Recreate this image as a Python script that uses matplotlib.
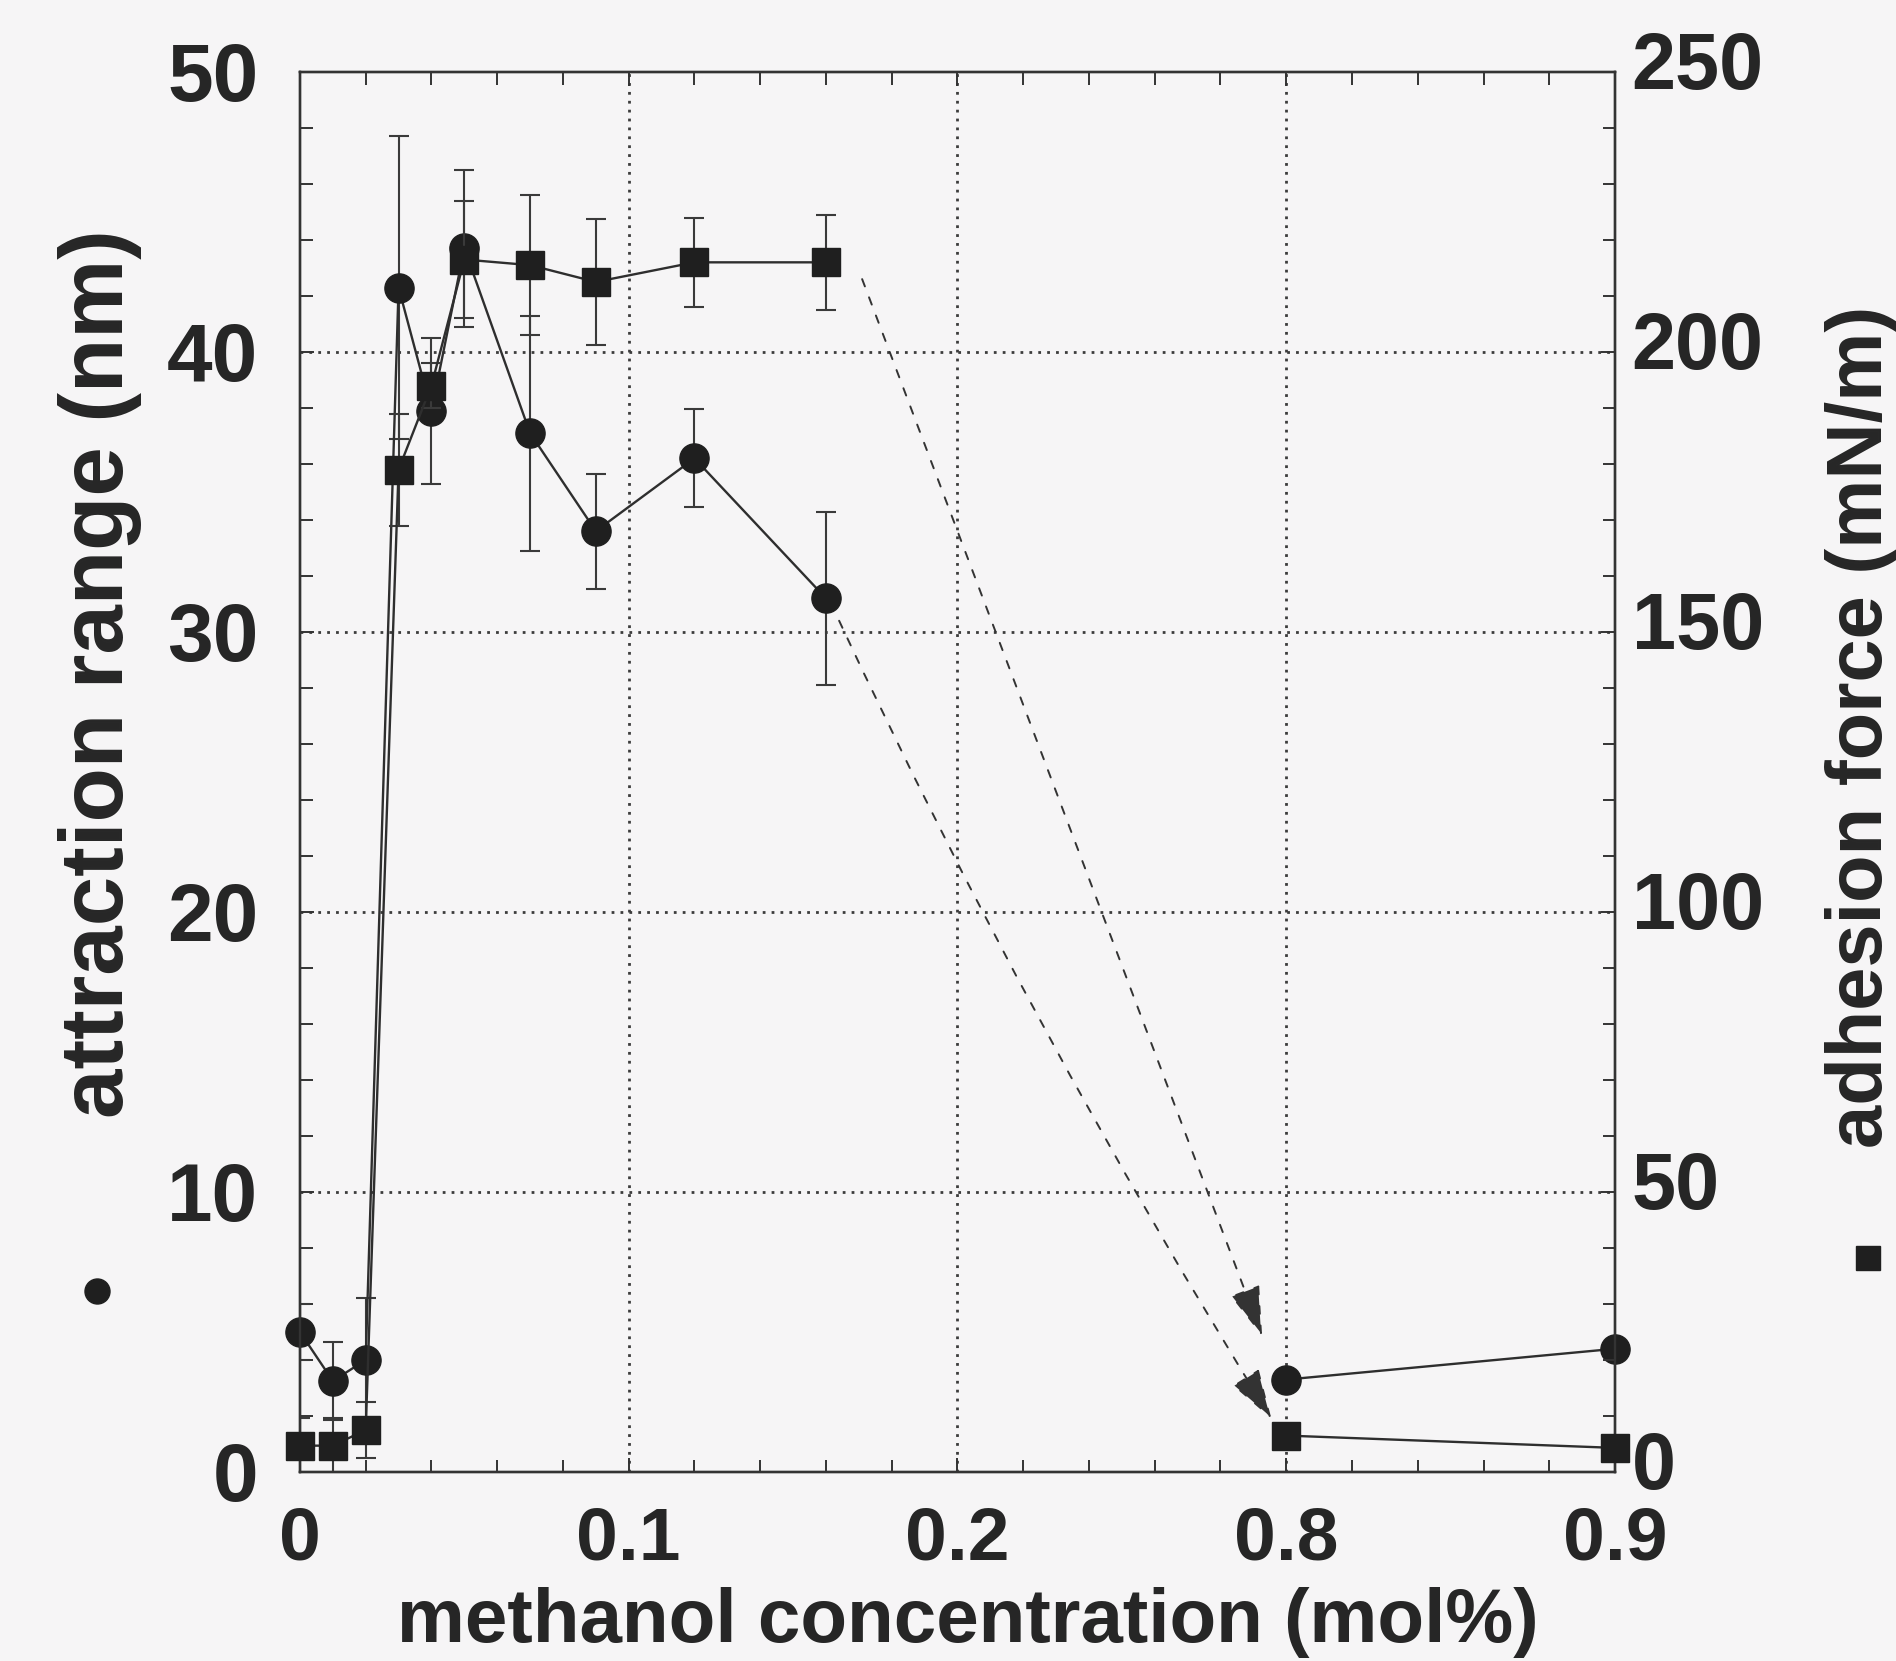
import numpy as np
import matplotlib
matplotlib.use("Agg")
import matplotlib.pyplot as plt
from matplotlib.ticker import FixedLocator, FixedFormatter
from matplotlib.lines import Line2D
from matplotlib.transforms import ScaledTranslation

# ---- data ----
conc = [0, 0.01, 0.02, 0.03, 0.04, 0.05, 0.07, 0.09, 0.12, 0.16, 0.8, 0.9]
attraction_nm = [5.0, 3.25, 4.0, 42.3, 37.9, 43.7, 37.1, 33.6, 36.2, 31.2, 3.3, 4.4]
attraction_err = [1.0, 1.4, 2.2, 5.4, 2.6, 2.8, 4.2, 2.05, 1.75, 3.1, 0, 0]
adhesion_mNm = [4.7, 4.7, 7.5, 179, 194, 216.5, 215.5, 212.5, 216, 216, 6.5, 4.3]
adhesion_err = [5, 5, 5, 10, 4, 10.5, 12.5, 11.3, 8, 8.5, 0, 0]

x_ticks = [0, 0.1, 0.2, 0.8, 0.9]
x_ticklabels = ["0", "0.1", "0.2", "0.8", "0.9"]
left_ticks = [0, 10, 20, 30, 40, 50]
right_ticks = [0, 50, 100, 150, 200, 250]

# arrows: (start_x, start_y) -> (end_x, end_y), in left-axis data units
arrow_starts = [(0.171, 42.6), (0.164, 30.4)]
arrow_ends = [(0.756, 4.85), (0.773, 1.9)]
arrow_bends = [0.0, 0.03]

FONT = "Liberation Sans"
INK = "#262626"
BG = "#f6f5f6"


def fwd(x):
    x = np.asarray(x, dtype=float)
    return np.where(x <= 0.2, x, np.where(x >= 0.8, x - 0.5, 0.2 + (x - 0.2) / 6.0))


def inv(t):
    t = np.asarray(t, dtype=float)
    return np.where(t <= 0.2, t, np.where(t >= 0.3, t + 0.5, 0.2 + (t - 0.2) * 6.0))


fig = plt.figure(figsize=(18.96, 16.61), dpi=100, facecolor=BG)
ax = fig.add_axes([0.1582, 0.1138, 0.6936, 0.8429])
ax.set_facecolor(BG)
ax.set_xscale("function", functions=(fwd, inv))
ax.set_xlim(0, 0.9)
ax.set_ylim(0, 50)

ax2 = ax.twinx()
ax2.set_ylim(0, 250)

# grid
grid_kw = dict(color="#3c3c3c", lw=2.0, linestyle=(0, (1, 2.2)))
for gx in [0.1, 0.2, 0.8]:
    ax.axvline(gx, zorder=0.5, **grid_kw)
for gy in [10, 20, 30, 40]:
    ax.axhline(gy, zorder=0.5, **grid_kw)

# circles: attraction range
ax.errorbar(conc[:10], attraction_nm[:10], yerr=attraction_err[:10], fmt="none",
            ecolor="#3a3a3a", elinewidth=1.5, capsize=7, capthick=1.5, zorder=2)
ax.plot(conc[:10], attraction_nm[:10], "-", color="#2e2e2e", lw=1.7, zorder=2)
ax.plot(conc[10:], attraction_nm[10:], "-", color="#2e2e2e", lw=1.7, zorder=2, clip_on=False)
ax.plot(conc, attraction_nm, "o", color="#1f1f1f", ms=21, mec="#1f1f1f", zorder=3,
        ls="none", clip_on=False)

# squares: adhesion force
ax2.errorbar(conc[:10], adhesion_mNm[:10], yerr=adhesion_err[:10], fmt="none",
             ecolor="#3a3a3a", elinewidth=1.5, capsize=7, capthick=1.5, zorder=2)
ax2.plot(conc[:10], adhesion_mNm[:10], "-", color="#2e2e2e", lw=1.7, zorder=2)
ax2.plot(conc[10:], adhesion_mNm[10:], "-", color="#2e2e2e", lw=1.7, zorder=2, clip_on=False)
ax2.plot(conc, adhesion_mNm, "s", color="#1f1f1f", ms=20, mec="#1f1f1f", zorder=3,
         ls="none", clip_on=False)

# dashed arrows
for (sx, sy), (ex, ey), rad in zip(arrow_starts, arrow_ends, arrow_bends):
    ax2.annotate("", xy=(ex, ey * 5), xytext=(sx, sy * 5),
                 arrowprops=dict(arrowstyle="-|>,head_length=1.6,head_width=0.5",
                                 mutation_scale=20,
                                 linestyle=(0, (4, 6)), lw=1.4, color="#333333",
                                 shrinkA=0, shrinkB=0,
                                 connectionstyle=f"arc3,rad={rad}"))

# ticks
ax.xaxis.set_major_locator(FixedLocator(x_ticks))
ax.xaxis.set_major_formatter(FixedFormatter(x_ticklabels))
ax.xaxis.set_minor_locator(FixedLocator(inv(np.arange(0, 0.4001, 0.02))))
ax.yaxis.set_major_locator(FixedLocator(left_ticks))
ax.yaxis.set_minor_locator(FixedLocator(np.arange(0, 50.01, 2)))
ax2.yaxis.set_major_locator(FixedLocator(right_ticks))
ax2.yaxis.set_minor_locator(FixedLocator(np.arange(0, 250.01, 10)))

for a in (ax, ax2):
    for s in a.spines.values():
        s.set_linewidth(1.7)
        s.set_color("#333333")

ax.tick_params(axis="both", which="both", direction="in", color="#333333", width=1.4)
ax.tick_params(axis="x", which="both", top=True)
ax.tick_params(axis="both", which="major", length=10)
ax.tick_params(axis="both", which="minor", length=9)
ax.tick_params(axis="x", which="major", pad=24)
ax.tick_params(axis="y", which="major", pad=30)
ax.tick_params(axis="y", which="both", right=False)
ax2.tick_params(axis="y", which="both", direction="in", color="#333333", width=1.4)
ax2.tick_params(axis="y", which="major", length=10, pad=12)
ax2.tick_params(axis="y", which="minor", length=9)

for lab in ax.get_xticklabels():
    lab.set_fontfamily(FONT)
    lab.set_fontweight("bold")
    lab.set_fontsize(54)
    lab.set_color(INK)
for lab in ax.get_yticklabels():
    lab.set_fontfamily(FONT)
    lab.set_fontweight("bold")
    lab.set_fontsize(59)
    lab.set_color(INK)
# right-hand labels sit slightly higher in the reference
lift = ScaledTranslation(0, 0.12, fig.dpi_scale_trans)
for tick in ax2.yaxis.get_major_ticks():
    lab = tick.label2
    lab.set_fontfamily(FONT)
    lab.set_fontweight("bold")
    lab.set_fontsize(57)
    lab.set_color(INK)
    lab.set_transform(lab.get_transform() + lift)

# axis labels
ax.set_xlabel("methanol concentration (mol%)", fontfamily=FONT, fontweight="bold",
              fontsize=55, color=INK)
ax.xaxis.set_label_coords(0.508, -0.082)
ax.set_ylabel("attraction range (nm)", fontfamily=FONT, fontweight="bold",
              fontsize=64, color=INK)
ax.yaxis.set_label_coords(-0.120, 0.570)
ax2.set_ylabel("adhesion force (mN/m)", fontfamily=FONT, fontweight="bold",
               fontsize=56, color=INK, rotation=90)
ax2.yaxis.set_label_coords(1.160, 0.532)

# symbol keys next to the axis labels
fig.add_artist(Line2D([0.0512], [0.2228], marker="o", ms=18, color="#1f1f1f",
                      transform=fig.transFigure))
fig.add_artist(Line2D([0.9852], [0.2426], marker="s", ms=17, color="#1f1f1f",
                      transform=fig.transFigure))

fig.savefig("out.png", dpi=100, facecolor=BG)
